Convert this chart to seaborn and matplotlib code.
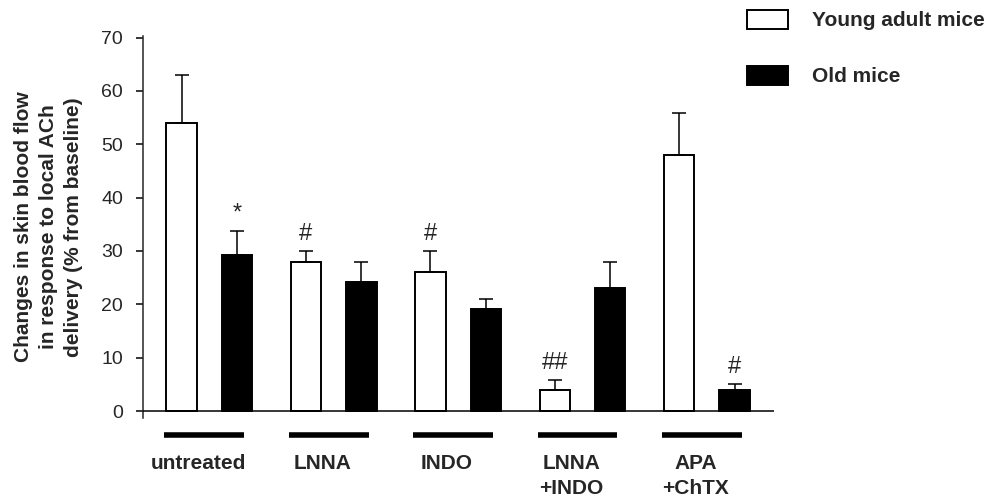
import numpy as np
import pandas as pd
import matplotlib
matplotlib.use("Agg")
import matplotlib.pyplot as plt
from matplotlib import transforms
import seaborn as sns

# ---- data ----
groups = ["untreated", "LNNA", "INDO", "LNNA\n+INDO", "APA\n+ChTX"]
ages = ["Young adult mice", "Old mice"]
young_vals = [54.0, 28.0, 26.0, 3.9, 47.9]
young_err = [9.0, 2.0, 4.0, 1.9, 8.0]
old_vals = [29.2, 24.2, 19.1, 23.0, 3.9]
old_err = [4.6, 3.7, 1.9, 4.9, 1.1]
# significance marks: (group, age, text)
marks = [
    ("untreated", "Old mice", "*"),
    ("LNNA", "Young adult mice", "#"),
    ("INDO", "Young adult mice", "#"),
    ("LNNA\n+INDO", "Young adult mice", "##"),
    ("APA\n+ChTX", "Old mice", "#"),
]
ylabel_text = "Changes in skin blood flow\nin response to local ACh\ndelivery (% from baseline)"
yticks = [0, 10, 20, 30, 40, 50, 60, 70]

df = pd.DataFrame({
    "group": groups * 2,
    "age": [ages[0]] * len(groups) + [ages[1]] * len(groups),
    "value": young_vals + old_vals,
})

sns.set_style("ticks")
plt.rcParams["font.family"] = ["Liberation Sans", "DejaVu Sans"]

fig = plt.figure(figsize=(9.9, 4.97), dpi=100)
ax = fig.add_axes([0.1444, 0.1590, 0.6379, 0.7686])

sns.barplot(data=df, x="group", y="value", hue="age", order=groups, hue_order=ages,
            palette=dict(zip(ages, ["white", "black"])), saturation=1,
            edgecolor="black", linewidth=1.4, width=0.89, gap=0.45,
            errorbar=None, legend=False, ax=ax)

# one-sided error bars
for cont, errs in zip(ax.containers, [young_err, old_err]):
    xs = [b.get_x() + b.get_width() / 2 for b in cont]
    ys = [b.get_height() for b in cont]
    ax.errorbar(xs, ys, yerr=[np.zeros(len(errs)), errs], fmt="none",
                ecolor="black", elinewidth=1.1, capsize=4.7, capthick=1.1, zorder=3)

# significance marks
err_map = {ages[0]: young_err, ages[1]: old_err}
for g, a, t in marks:
    i = groups.index(g)
    b = ax.containers[ages.index(a)][i]
    x = b.get_x() + b.get_width() / 2
    top = b.get_height() + err_map[a][i]
    ax.annotate(t, xy=(x, top), xytext=(0, 8), textcoords="offset points",
                ha="center", va="baseline", fontsize=17)

ax.axhline(0, color="black", lw=1.1, zorder=4)
ax.spines[["top", "right", "bottom"]].set_visible(False)
ax.spines["left"].set_linewidth(1.1)
ax.set_ylim(-1.3, 70.3)
ax.set_xlim(-0.533, 4.543)
ax.set_yticks(yticks)
ax.tick_params(axis="y", length=5, width=1.1, pad=9.4, labelsize=14, direction="out", color="black")

ax.set_xticks(np.arange(len(groups)) - 0.09)
ax.set_xticklabels(groups, fontweight="bold", fontsize=15, linespacing=1.4)
ax.tick_params(axis="x", length=0, pad=26)
ax.set_xlabel("")
ax.set_ylabel(ylabel_text, fontweight="bold", fontsize=15, linespacing=1.4, labelpad=13)

# thick bars under each group
trans = transforms.blended_transform_factory(ax.transData, ax.transAxes)
for i in range(len(groups)):
    ax.plot([i - 0.36, i + 0.28], [-0.0433, -0.0433], transform=trans, color="black",
            lw=4, solid_capstyle="butt", clip_on=False)

ax.legend(ax.containers[:2], ages, loc="upper left",
          bbox_to_anchor=(747 / 990, 1 - 10 / 497), bbox_transform=fig.transFigure,
          frameon=False, borderpad=0, borderaxespad=0, handlelength=1.97,
          handleheight=1.0, handletextpad=1.15, labelspacing=1.7,
          prop={"weight": "bold", "size": 15})

fig.savefig("out.png", dpi=100)
